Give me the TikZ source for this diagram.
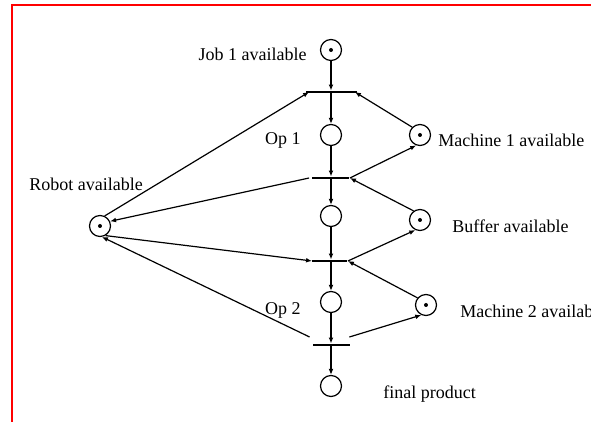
\documentclass[tikz,border=0pt]{standalone}
\usepackage{fontspec}
\setmainfont{Liberation Serif}
\usetikzlibrary{arrows.meta,calc}

\begin{document}
\begin{tikzpicture}[x=0.5pt, y=-0.5pt]
\useasboundingbox (0,0) rectangle (591,422);
\tikzstyle{place}=[draw, circle, line width=0.6pt, minimum size=10.5pt, inner sep=0pt];
\tikzstyle{marked}=[place, path picture={\fill (path picture bounding box.center) circle (1pt);}];
\tikzstyle{trans}=[fill, rectangle, minimum width=18.5pt, minimum height=1pt, inner sep=0pt];
\tikzstyle{lbl}=[inner sep=0pt, font=\fontsize{9}{11}\selectfont];
\tikzstyle{flow}=[line width=0.6pt, -{Latex[length=3pt, width=2.4pt]}];
% frame
\draw[red, line width=1pt] (12,440) -- (12,5.5) -- (600,5.5);
% places
\node[marked] (job) at (331,50) {};
\node[place] (op1) at (331,135) {};
\node[marked] (mach1) at (420,135) {};
\node[place] (mid) at (331,216) {};
\node[marked] (buf) at (420,220) {};
\node[marked] (robot) at (100,226) {};
\node[place] (op2) at (331,302) {};
\node[marked] (mach2) at (426,305) {};
\node[place] (fin) at (331,386) {};
% transitions
\node[trans, minimum width=25.5pt] (t1) at (332,92) {};
\node[trans] (t2) at (331,178) {};
\node[trans, minimum width=17.5pt] (t3) at (330,261) {};
\node[trans] (t4) at (331.5,345) {};
% labels
\node[lbl, anchor=east] (joblbl) at (307,54) {Job 1 available};
\node[lbl, anchor=east] (op1lbl) at (301,140) {Op 1};
\node[lbl, anchor=west] (mach1lbl) at (438,140) {Machine 1 available};
\node[lbl, anchor=west] (robotlbl) at (29,184) {Robot available};
\node[lbl, anchor=west] (buflbl) at (452,226) {Buffer available};
\node[lbl, anchor=east] (op2lbl) at (301,310) {Op 2};
\node[lbl, anchor=west] (mach2lbl) at (460,311) {Machine 2 available};
\node[lbl, anchor=west] (finlbl) at (383,394) {final product};
% main line
\draw[flow] (job) -- (job |- t1.north);
\draw[flow] (op1 |- t1.south) -- (op1);
\draw[flow] (op1) -- (op1 |- t2.north);
\draw[flow] (op1 |- t2.south) -- (mid);
\draw[flow] (mid) -- (mid |- t3.north);
\draw[flow] (mid |- t3.south) -- (op2);
\draw[flow] (op2) -- (op2 |- t4.north);
\draw[flow] (op2 |- t4.south) -- (fin);
% robot
\draw[flow] (robot.65) -- ($(t1.west)+(3,0)$);
\draw[flow] ($(t2.west)+(-3,0)$) -- (robot.25);
\draw[flow] (robot.-60) -- (t3.west);
\draw[flow] ($(t4.west)+(-3,-8)$) -- (robot.-80);
% machines and buffer
\draw[flow] (mach1.135) -- ($(t1.east)+(-3,0)$);
\draw[flow] (t2.east) -- (mach1.250);
\draw[flow] (buf.125) -- (t2.east);
\draw[flow] (t3.east) -- (buf.245);
\draw[flow] (mach2.140) -- (t3.east);
\draw[flow] ($(t4.east)+(-1,-8)$) -- (mach2.245);
\end{tikzpicture}
\end{document}
